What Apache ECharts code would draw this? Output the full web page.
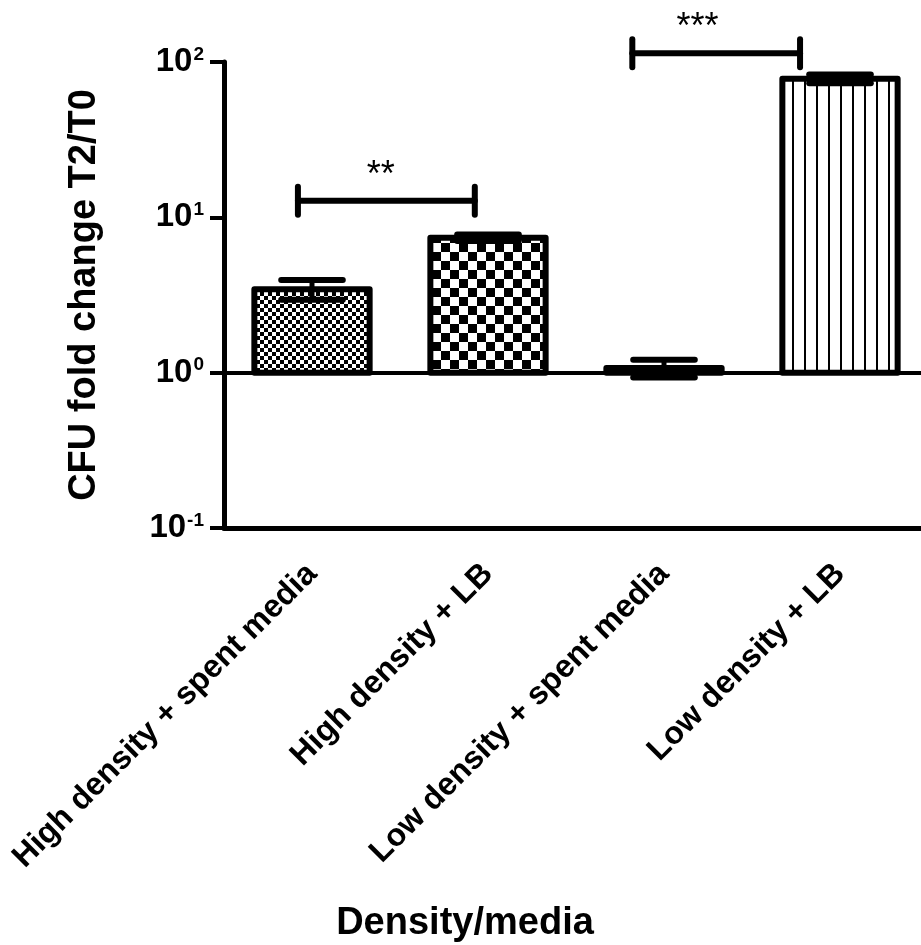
<!DOCTYPE html>
<html>
<head>
<meta charset="utf-8">
<script src="https://cdn.jsdelivr.net/npm/echarts@6/dist/echarts.min.js"></script>
<style>
html,body{margin:0;padding:0;background:#fff;}
#chart{width:921px;height:945px;}
</style>
</head>
<body>
<div id="chart"></div>
<script>
// ---- data ----
const categories = ['High density + spent media', 'High density + LB', 'Low density + spent media', 'Low density + LB'];
const foldChange = [3.45, 7.4, 1.07, 78];
const foldError = [0.5, 0.35, 0.14, 5];
const yTickValues = [0.1, 1, 10, 100];
const yTickExponents = ['-1', '0', '1', '2'];
const bracketFrom = [0, 2];
const bracketTo = [1, 3];
const bracketY = [12.8, 114];
const bracketLabels = ['**', '***'];
const xAxisTitle = 'Density/media';
const yAxisTitle = 'CFU fold change T2/T0';

// ---- layout / style constants ----
const FONT = '"Liberation Sans", Arial, Helvetica, sans-serif';
const bracketShift = [[-0.08, -0.075], [-0.18, -0.227]];
const starShift = [0.39, 0.19];

function checker(cell) {
  const c = document.createElement('canvas');
  c.width = c.height = cell * 2;
  const g = c.getContext('2d');
  g.fillStyle = '#fff'; g.fillRect(0, 0, cell * 2, cell * 2);
  g.fillStyle = '#000'; g.fillRect(0, 0, cell, cell); g.fillRect(cell, cell, cell, cell);
  return c;
}
function stripes(period, w) {
  const c = document.createElement('canvas');
  c.width = period; c.height = 4;
  const g = c.getContext('2d');
  g.fillStyle = '#fff'; g.fillRect(0, 0, period, 4);
  g.fillStyle = '#000'; g.fillRect(0, 0, w, 4);
  return c;
}
const patterns = [
  { image: checker(4), repeat: 'repeat' },
  { image: checker(9), repeat: 'repeat' },
  '#fff',
  { image: stripes(12, 2), repeat: 'repeat' }
];

const chart = echarts.init(document.getElementById('chart'), null, { renderer: 'canvas' });

const barData = categories.map((c, i) => [i, foldChange[i], foldError[i]]);
const bracketData = bracketFrom.map((f, i) => [f, bracketTo[i], bracketY[i], i]);

const option = {
  backgroundColor: '#fff',
  animation: false,
  grid: { left: 224, top: 62, width: 704, height: 466, containLabel: false, outerBoundsMode: 'none' },
  xAxis: {
    type: 'category',
    data: categories,
    boundaryGap: true,
    axisLine: { lineStyle: { color: '#000', width: 5 } },
    axisTick: { alignWithLabel: true, length: 14, lineStyle: { color: '#000', width: 4 } },
    axisLabel: { rotate: 45, margin: 41, color: '#000', fontSize: 32, fontWeight: 'bold', fontFamily: FONT, interval: 0 },
    name: xAxisTitle,
    nameLocation: 'middle',
    nameGap: 377,
    nameTextStyle: { color: '#000', fontSize: 38, fontWeight: 'bold', fontFamily: FONT, padding: [0, 222, 0, 0] }
  },
  yAxis: {
    type: 'log',
    logBase: 10,
    min: 0.1,
    max: 100,
    splitLine: { show: false },
    axisLine: { show: true, lineStyle: { color: '#000', width: 5 } },
    axisTick: { show: true, length: 14, lineStyle: { color: '#000', width: 4 } },
    axisLabel: {
      margin: 20,
      color: '#000',
      formatter: function (v) {
        let idx = yTickValues.findIndex(t => Math.abs(Math.log10(t) - Math.log10(v)) < 1e-6);
        if (idx < 0) return '';
        return '{b|10}{s|' + yTickExponents[idx] + '}';
      },
      rich: {
        b: { fontSize: 33, fontWeight: 'bold', fontFamily: FONT, color: '#000', lineHeight: 34 },
        s: { fontSize: 19, fontWeight: 'bold', fontFamily: FONT, color: '#000', verticalAlign: 'top', lineHeight: 34, padding: [0, 0, 12, 1] }
      }
    },
    name: yAxisTitle,
    nameLocation: 'middle',
    nameGap: 120,
    nameTextStyle: { color: '#000', fontSize: 38, fontWeight: 'bold', fontFamily: FONT }
  },
  series: [
    {
      type: 'line',
      data: [],
      silent: true,
      markLine: {
        silent: true,
        symbol: 'none',
        label: { show: false },
        lineStyle: { color: '#000', width: 4, type: 'solid' },
        data: [{ yAxis: 1 }]
      }
    },
    {
      type: 'custom',
      data: barData,
      z: 5,
      renderItem: function (params, api) {
        const i = api.value(0), v = api.value(1), e = api.value(2);
        const base = api.coord([i, 1]);
        const top = api.coord([i, v]);
        const up = api.coord([i, v + e]);
        const lo = api.coord([i, v - e]);
        const band = api.size([1, 0])[0];
        const w = band * 0.655;
        const cap = band * 0.175;
        const x = base[0];
        const lineStyle = { stroke: '#000', lineWidth: 6, lineCap: 'round' };
        return {
          type: 'group',
          children: [
            { type: 'rect', shape: { x: x - w / 2, y: Math.min(top[1], base[1]), width: w, height: Math.abs(base[1] - top[1]) },
              style: { fill: patterns[i], stroke: '#000', lineWidth: 6, lineJoin: 'round' } },
            { type: 'line', shape: { x1: x, y1: up[1], x2: x, y2: lo[1] }, style: { stroke: '#000', lineWidth: 5 } },
            { type: 'line', shape: { x1: x - cap, y1: up[1], x2: x + cap, y2: up[1] }, style: lineStyle },
            { type: 'line', shape: { x1: x - cap, y1: lo[1], x2: x + cap, y2: lo[1] }, style: lineStyle }
          ]
        };
      }
    },
    {
      type: 'custom',
      data: bracketData,
      z: 6,
      renderItem: function (params, api) {
        const f = api.value(0), t = api.value(1), y = api.value(2), k = api.value(3);
        const band = api.size([1, 0])[0];
        const a = api.coord([f, y]);
        const b = api.coord([t, y]);
        const x1 = a[0] + bracketShift[k][0] * band;
        const x2 = b[0] + bracketShift[k][1] * band;
        const yy = a[1];
        const st = { stroke: '#000', lineWidth: 6, lineCap: 'round' };
        return {
          type: 'group',
          children: [
            { type: 'line', shape: { x1: x1, y1: yy, x2: x2, y2: yy }, style: st },
            { type: 'line', shape: { x1: x1, y1: yy - 14, x2: x1, y2: yy + 14 }, style: st },
            { type: 'line', shape: { x1: x2, y1: yy - 14, x2: x2, y2: yy + 14 }, style: st },
            { type: 'text', style: { text: bracketLabels[k], x: a[0] + starShift[k] * band, y: yy - 25,
                align: 'center', verticalAlign: 'middle', font: '36px ' + FONT, fill: '#000' } }
          ]
        };
      }
    }
  ]
};
chart.setOption(option);
</script>
</body>
</html>
